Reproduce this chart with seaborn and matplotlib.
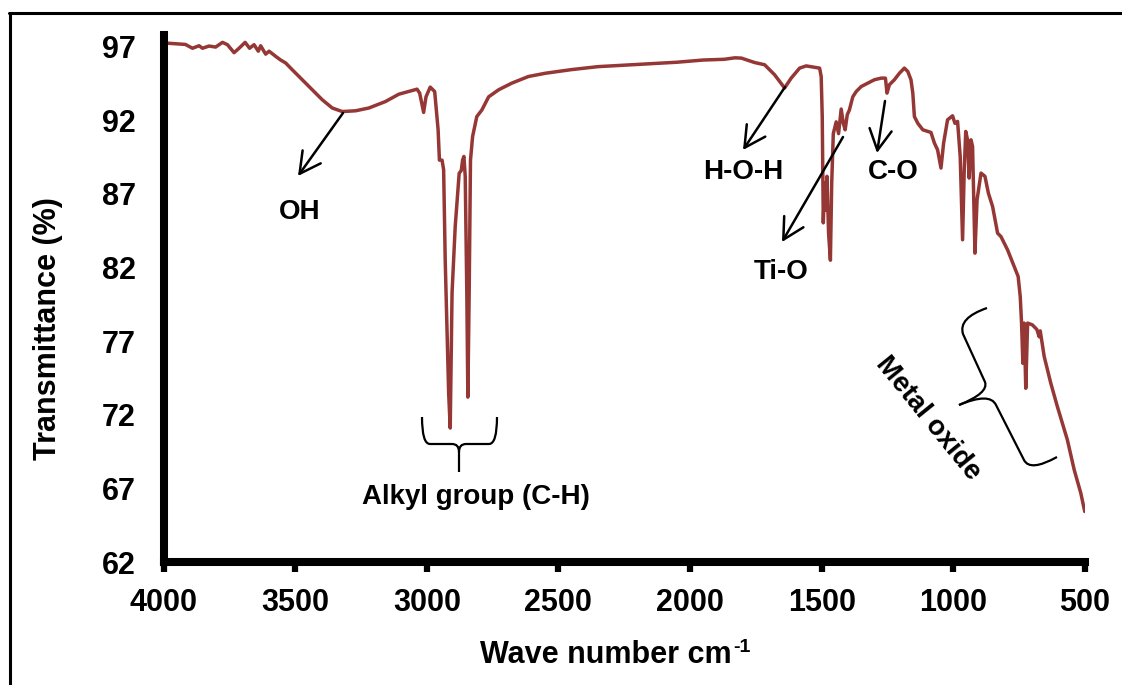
import numpy as np
import pandas as pd
import matplotlib
matplotlib.use("Agg")
import matplotlib.pyplot as plt
import seaborn as sns
from matplotlib.path import Path
from matplotlib.patches import PathPatch, FancyArrowPatch
from matplotlib.lines import Line2D

# ---------------- data ----------------
wavenumber = [
    3991, 3917, 3890, 3865, 3852, 3827, 3802, 3776, 3757, 3732, 3713, 3690, 3673, 3656,
    3640, 3631, 3612, 3599, 3574, 3555, 3536, 3511, 3473, 3435, 3397, 3359, 3321, 3271,
    3220, 3157, 3106, 3037, 3027, 3012, 3003, 2987, 2970, 2957, 2952, 2942, 2936, 2930,
    2917, 2911, 2904, 2892, 2877, 2869, 2864, 2859, 2854, 2848, 2844, 2839, 2834, 2826,
    2810, 2791, 2765, 2727, 2677, 2614, 2550, 2450, 2350, 2250, 2150, 2050, 1950, 1870,
    1830, 1805, 1755, 1717,
    1679, 1647, 1641, 1616, 1584, 1559, 1533, 1508, 1502, 1498, 1494, 1489, 1484, 1480,
    1474, 1467, 1462, 1456, 1445, 1436, 1426, 1418, 1411, 1403, 1395, 1382, 1369, 1350,
    1325, 1300, 1274, 1258, 1252, 1243, 1224, 1205, 1186, 1173, 1161, 1154, 1148,
    1135, 1116, 1085, 1072, 1060, 1047, 1037, 1022, 1003, 994, 984, 974, 965, 959, 953,
    946, 940, 933, 927, 918, 910, 895, 880, 867, 851, 832, 819, 794, 769, 754, 746, 741,
    736, 731, 725, 718, 700, 683, 674, 670, 655, 630, 605, 567, 541, 516, 501,
]
transmittance = [
    97.25, 97.16, 96.90, 97.07, 96.90, 97.05, 96.98, 97.30, 97.14, 96.60, 96.90, 97.30, 96.90, 97.14,
    96.70, 97.07, 96.50, 96.70, 96.35, 96.10, 95.90, 95.44, 94.76, 94.08, 93.40, 92.84, 92.60, 92.65,
    92.84, 93.28, 93.78, 94.12, 93.85, 92.54, 93.60, 94.26, 93.96, 91.36, 89.30, 89.30, 88.64, 82.50,
    73.50, 71.10, 80.30, 84.80, 88.40, 88.60, 89.30, 89.55, 88.20, 80.30, 73.20, 80.30, 89.30, 90.90,
    92.26, 92.70, 93.60, 94.08, 94.53, 94.98, 95.20, 95.45, 95.65, 95.75, 95.85, 95.95, 96.10, 96.15,
    96.25, 96.23, 95.93, 95.78,
    95.10, 94.35, 94.20, 94.87, 95.55, 95.70, 95.62, 95.55, 94.98, 92.26, 85.04, 87.76, 85.90, 88.20,
    84.35, 82.50, 87.76, 91.10, 91.90, 91.10, 92.77, 91.80, 91.36, 92.38, 92.70, 93.60, 93.96, 94.30,
    94.53, 94.76, 94.87, 94.87, 93.85, 94.42, 94.76, 95.20, 95.55, 95.32, 94.76, 93.85, 92.26,
    91.80, 91.36, 91.18, 90.46, 90.00, 88.76, 90.46, 92.04, 92.31, 91.80, 91.93, 89.55, 83.89, 88.42, 91.25,
    90.68, 88.08, 90.68, 90.23, 82.98, 86.60, 88.42, 88.20, 87.06, 86.15, 84.34, 84.10, 83.20, 82.08, 81.40, 80.04, 78.23,
    75.50, 78.23, 73.80, 78.23, 78.11, 77.80, 77.30, 77.70, 75.96, 74.15, 72.56, 70.30, 68.26, 66.68, 65.43,
]
x_ticks = [4000, 3500, 3000, 2500, 2000, 1500, 1000, 500]
y_ticks = [62, 67, 72, 77, 82, 87, 92, 97]

labels = ["OH", "Alkyl group (C-H)", "H-O-H", "Ti-O", "C-O", "Metal oxide"]

# ---------------- style ----------------
sns.set_theme(style="white")
plt.rcParams["font.family"] = ["Liberation Sans", "DejaVu Sans"]
plt.rcParams["font.weight"] = "bold"

W, H = 1122, 685
fig = plt.figure(figsize=(W / 100, H / 100), dpi=100)
fig.patch.set_facecolor("white")


def P(x, y):
    """reference pixel -> figure fraction"""
    return (x / W, 1 - y / H)


ax = fig.add_axes([163.5 / W, 1 - 562 / H, (1085 - 163.5) / W, (562 - 35) / H])
ax.set_facecolor("white")

df = pd.DataFrame({"Wave number": wavenumber, "Transmittance": transmittance})
sns.lineplot(data=df, x="Wave number", y="Transmittance", ax=ax, color="#953735",
             lw=2.5, estimator=None, sort=False, legend=False)

ax.set_xlim(4000, 500)
ax.set_ylim(62, 97.8)
ax.set_xticks(x_ticks)
ax.set_yticks(y_ticks)
ax.set_xticklabels([str(v) for v in x_ticks])
ax.set_yticklabels([str(v) for v in y_ticks])

for s in ["top", "right"]:
    ax.spines[s].set_visible(False)
for s in ["left", "bottom"]:
    ax.spines[s].set_visible(True)
    ax.spines[s].set_linewidth(5.8)
    ax.spines[s].set_color("black")
    ax.spines[s].set_capstyle("projecting")

ax.tick_params(axis="x", bottom=True, direction="out", length=7.5, width=4.5,
               color="black", labelsize=22, pad=11)
ax.tick_params(axis="y", left=False, length=0, labelsize=22, pad=20)
for t in ax.get_xticklabels() + ax.get_yticklabels():
    t.set_fontweight("bold")
    t.set_color("black")

ax.set_xlabel("Wave number cm", fontsize=22, fontweight="bold", color="black")
ax.set_ylabel("Transmittance (%)", fontsize=22, fontweight="bold", color="black")
ax.xaxis.label.set_va("center")
ax.yaxis.label.set_va("center")
ax.xaxis.set_label_coords((606 - 163.5) / (1085 - 163.5), -(655 - 562) / (562 - 35))
ax.yaxis.set_label_coords((48 - 163.5) / (1085 - 163.5), (562 - 329) / (562 - 35))
ax.grid(False)

# superscript "-1" right after the x label
fig.canvas.draw()
bb = ax.xaxis.label.get_window_extent(fig.canvas.get_renderer())
fig.text((bb.x1 + 1) / W, (bb.y1 + 1) / H, "-1", fontsize=14, fontweight="bold",
         color="black", ha="left", va="top")

# ---------------- annotations ----------------
arrow_kw = dict(arrowstyle="->,head_length=0.75,head_width=0.4", lw=1.8, color="black",
                shrinkA=0, shrinkB=0, mutation_scale=20)
ann_font = dict(fontsize=20, fontweight="bold", color="black", ha="center", va="center")

arrows = [  # (from, to) in reference pixels
    ((343, 113), (298, 176)),
    ((785, 87), (743, 150)),
    ((843, 137), (782, 242)),
    ((885, 101), (877, 153)),
]
for (a, b) in arrows:
    fig.add_artist(FancyArrowPatch(P(*a), P(*b), transform=fig.transFigure, **arrow_kw))

fig.text(*P(300, 212), labels[0], **ann_font)
fig.text(*P(476, 497), labels[1], **ann_font)
fig.text(*P(743, 172), labels[2], **ann_font)
fig.text(*P(781, 272), labels[3], **ann_font)
fig.text(*P(893, 172), labels[4], **ann_font)
fig.text(*P(928, 418), labels[5], rotation=-51, rotation_mode="anchor", **ann_font)


def brace(points_codes):
    verts = [P(*p) for p, _ in points_codes]
    codes = [c for _, c in points_codes]
    patch = PathPatch(Path(verts, codes), transform=fig.transFigure, fill=False,
                      lw=1.6, edgecolor="black")
    fig.add_artist(patch)


M, L, Q = Path.MOVETO, Path.LINETO, Path.CURVE3
# alkyl brace
brace([((422, 417), M), ((422, 444), Q), ((430, 444), Q), ((452, 444), L),
       ((459, 444), Q), ((459, 452), Q), ((459, 472), L)])
brace([((459, 452), M), ((459, 444), Q), ((466, 444), Q), ((489, 444), L),
       ((497, 444), Q), ((497, 417), Q)])
# metal oxide brace
brace([((987, 308), M), ((958, 318), Q), ((963, 334), Q), ((985, 382), L),
       ((989, 393), Q), ((959, 405), Q)])
brace([((959, 405), M), ((990, 392), Q), ((996, 405), Q), ((1024, 460), L),
       ((1030, 472), Q), ((1057, 457), Q)])

# outer frame (left and top edges visible)
fig.add_artist(Line2D([P(10, 13)[0], P(10, 700)[0]], [P(10, 13)[1], P(10, 700)[1]],
                      transform=fig.transFigure, color="black", lw=2.2))
fig.add_artist(Line2D([P(9, 13)[0], P(1130, 13)[0]], [P(9, 13)[1], P(1130, 13)[1]],
                      transform=fig.transFigure, color="black", lw=2.2))

fig.savefig("out.png", dpi=100, facecolor="white")
